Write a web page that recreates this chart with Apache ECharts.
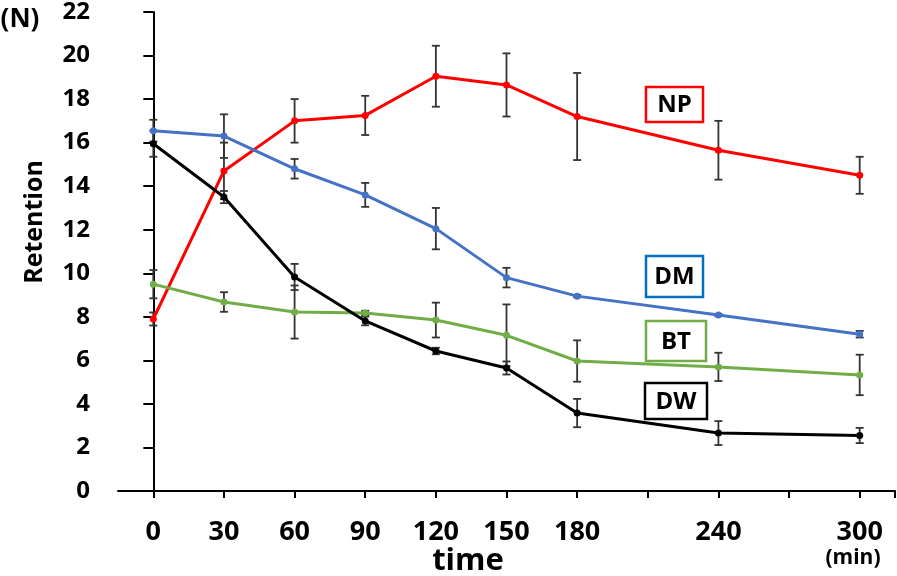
<!DOCTYPE html>
<html>
<head>
<meta charset="utf-8">
<script src="https://cdn.jsdelivr.net/npm/echarts@6/dist/echarts.min.js"></script>
<style>
html,body{margin:0;padding:0;background:#fff;}
#chart{width:897px;height:576px;}
</style>
</head>
<body>
<div id="chart"></div>
<script>
const times = [0, 30, 60, 90, 120, 150, 180, 240, 300];
const xTickValues = [0, 30, 60, 90, 120, 150, 180, 210, 240, 270, 300, 315];
const xLabelValues = [0, 30, 60, 90, 120, 150, 180, 240, 300];

const NP = [7.9, 14.7, 17.0, 17.25, 19.05, 18.65, 17.2, 15.65, 14.5];
const NP_err = [0.3, 1.3, 1.0, 0.9, 1.4, 1.45, 2.0, 1.35, 0.85];
const DM = [16.55, 16.3, 14.8, 13.6, 12.05, 9.8, 8.95, 8.08, 7.2];
const DM_err = [0.5, 1.0, 0.45, 0.55, 0.95, 0.45, 0.05, 0.05, 0.15];
const BT = [9.5, 8.68, 8.22, 8.18, 7.85, 7.15, 5.97, 5.7, 5.33];
const BT_err = [0.65, 0.45, 1.22, 0.1, 0.8, 1.42, 0.95, 0.65, 0.93];
const DW = [15.95, 13.5, 9.83, 7.81, 6.43, 5.65, 3.58, 2.66, 2.55];
const DW_err = [0.6, 0.28, 0.6, 0.2, 0.15, 0.3, 0.65, 0.55, 0.35];

const FONT = '"Open Sans", "Liberation Sans", sans-serif';

const seriesDefs = [
  {name: 'NP', values: NP, err: NP_err, color: '#FF0000'},
  {name: 'DM', values: DM, err: DM_err, color: '#4472C4'},
  {name: 'BT', values: BT, err: BT_err, color: '#70AD47'},
  {name: 'DW', values: DW, err: DW_err, color: '#000000'}
];

function errRender(params, api) {
  const x = api.value(0);
  const lo = api.coord([x, api.value(1)]);
  const hi = api.coord([x, api.value(2)]);
  const hw = 4;
  const st = {stroke: '#333333', lineWidth: 1.8};
  return {
    type: 'group',
    children: [
      {type: 'line', shape: {x1: lo[0], y1: lo[1], x2: hi[0], y2: hi[1]}, style: st},
      {type: 'line', shape: {x1: lo[0]-hw, y1: lo[1], x2: lo[0]+hw, y2: lo[1]}, style: st},
      {type: 'line', shape: {x1: hi[0]-hw, y1: hi[1], x2: hi[0]+hw, y2: hi[1]}, style: st}
    ]
  };
}

const series = [];
seriesDefs.forEach(s => {
  series.push({
    type: 'custom',
    name: s.name + '_err',
    renderItem: errRender,
    data: times.map((t, i) => [t, s.values[i] - s.err[i], s.values[i] + s.err[i]]),
    z: 2,
    silent: true
  });
});
seriesDefs.forEach(s => {
  series.push({
    type: 'line',
    name: s.name,
    data: times.map((t, i) => [t, s.values[i]]),
    symbol: 'circle',
    symbolSize: 7,
    lineStyle: {color: s.color, width: 3},
    itemStyle: {color: s.color},
    z: 3,
    animation: false
  });
});

function box(label, color, x, y, w, h) {
  return {
    type: 'group',
    children: [
      {type: 'rect', shape: {x: x, y: y, width: w, height: h},
       style: {fill: '#fff', stroke: color, lineWidth: 2.5}, z: 10},
      {type: 'text', x: x + w / 2, y: y + h / 2 + 1, z: 11,
       style: {text: label, font: 'bold 24px ' + FONT, fill: '#000',
               textAlign: 'center', textVerticalAlign: 'middle'}}
    ]
  };
}

const chart = echarts.init(document.getElementById('chart'), null, {renderer: 'canvas'});
chart.setOption({
  animation: false,
  backgroundColor: '#ffffff',
  grid: {left: 118, right: 2, top: 12, bottom: 85, containLabel: false},
  xAxis: {
    type: 'value',
    min: -15,
    max: 315,
    splitLine: {show: false},
    axisLine: {show: true, lineStyle: {color: '#000', width: 2}},
    axisTick: {show: true, length: 7, customValues: xTickValues, lineStyle: {color: '#000', width: 2}},
    axisLabel: {show: true, customValues: xLabelValues, margin: 28,
                fontFamily: FONT, fontWeight: 'bold', fontSize: 27, color: '#000'}
  },
  yAxis: {
    type: 'value',
    min: 0,
    max: 22,
    interval: 2,
    splitLine: {show: false},
    axisLine: {show: true, lineStyle: {color: '#000', width: 2}},
    axisTick: {show: true, length: 10, lineStyle: {color: '#000', width: 2}},
    axisLabel: {margin: 28, fontFamily: FONT, fontWeight: 'bold', fontSize: 24, color: '#000'}
  },
  series: series,
  graphic: [
    {type: 'text', x: 20, y: 20, style: {text: '(N)', font: 'bold 26px ' + FONT, fill: '#000', textAlign: 'center', textVerticalAlign: 'middle'}},
    {type: 'text', x: 35, y: 222, rotation: Math.PI / 2,
     style: {text: 'Retention', font: 'bold 25px ' + FONT, fill: '#000', textAlign: 'center', textVerticalAlign: 'middle'}},
    {type: 'text', x: 468, y: 561, style: {text: 'time', font: 'bold 31px ' + FONT, fill: '#000', textAlign: 'center', textVerticalAlign: 'middle'}},
    {type: 'text', x: 853, y: 558, style: {text: '(min)', font: 'bold 21px ' + FONT, fill: '#000', textAlign: 'center', textVerticalAlign: 'middle'}},
    box('NP', '#FF0000', 646, 87, 57, 35),
    box('DM', '#0070C0', 646, 256, 57, 41),
    box('BT', '#70AD47', 646, 321, 60, 40),
    box('DW', '#000000', 645, 383, 62, 36)
  ]
});
</script>
</body>
</html>
